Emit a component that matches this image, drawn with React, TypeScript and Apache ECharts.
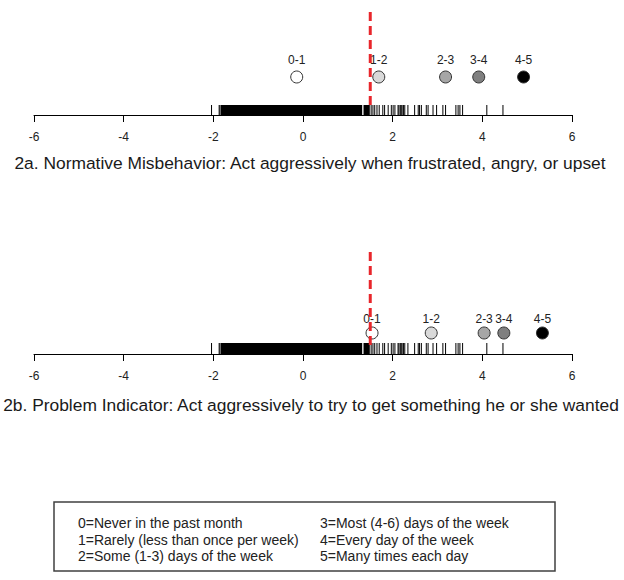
import React, { useEffect, useRef } from 'react';
import * as echarts from 'echarts';

// ---------- data ----------
const dotLabels = ['0-1', '1-2', '2-3', '3-4', '4-5'];
const thresholdsA = [-0.14, 1.69, 3.18, 3.92, 4.92];
const thresholdsB = [1.54, 2.86, 4.04, 4.48, 5.34];
const meanLine = 1.5;
const rugDense = [
  [-1.83, 1.32],
  [1.35, 1.49],
];
const rugTicks = [
  -2.04, -1.87, -1.85, 1.52, 1.56, 1.6, 1.65, 1.7, 1.78, 1.82, 1.9, 1.97, 2.01, 2.05, 2.12, 2.14,
  2.17, 2.19, 2.21, 2.24, 2.27, 2.34, 2.49, 2.57, 2.6, 2.64, 2.75, 2.79, 2.9, 2.98, 3.12, 3.18,
  3.41, 3.46, 3.5, 3.56, 4.1, 4.46,
];
const titleA = '2a. Normative Misbehavior: Act aggressively when frustrated, angry, or upset';
const titleB = '2b. Problem Indicator: Act aggressively to try to get something he or she wanted';
const legendLeft = [
  '0=Never in the past month',
  '1=Rarely (less than once per week)',
  '2=Some (1-3) days of the week',
];
const legendRight = [
  '3=Most (4-6) days of the week',
  '4=Every day of the week',
  '5=Many times each day',
];

// ---------- styles ----------
const FONT = '"Liberation Sans", Arial, sans-serif';
const dotColors = ['#ffffff', '#d9d9d9', '#a6a6a6', '#7f7f7f', '#000000'];
const RED = '#e8262b';

export default function App() {
  const ref = useRef<HTMLDivElement>(null);

  useEffect(() => {
    document.body.style.margin = '0';
    if (!ref.current) return;
    const chart = echarts.init(ref.current, null, { renderer: 'svg' });

    const panels = [
      { top: 8, height: 107, rugH: 10, dotY: 38, red: [10, 107], labelDist: 5, values: thresholdsA },
      { top: 248, height: 106, rugH: 11, dotY: 21, red: [9, 106], labelDist: 2, values: thresholdsB },
    ];

    const grids = panels.map((p) => ({ left: 34, width: 538, top: p.top, height: p.height }));
    const xAxes = panels.map((_, i) => ({
      type: 'value',
      gridIndex: i,
      min: -6,
      max: 6,
      interval: 2,
      axisLine: { show: true, onZero: false, lineStyle: { color: '#000', width: 1 } },
      axisTick: { show: true, length: 7, lineStyle: { color: '#000', width: 1 } },
      axisLabel: { fontSize: 12, color: '#222', margin: 16, fontFamily: FONT },
      splitLine: { show: false },
    }));
    const yAxes = panels.map((p, i) => ({
      type: 'value',
      gridIndex: i,
      min: 0,
      max: p.height,
      show: false,
    }));

    const series: any[] = [];
    panels.forEach((p, i) => {
      series.push({
        type: 'custom',
        xAxisIndex: i,
        yAxisIndex: i,
        z: 2,
        silent: true,
        data: rugDense,
        renderItem: (_params: any, api: any) => {
          const a = api.coord([api.value(0), 0]);
          const b = api.coord([api.value(1), p.rugH]);
          return {
            type: 'rect',
            shape: { x: a[0], y: b[1], width: b[0] - a[0], height: a[1] - b[1] },
            style: { fill: '#000' },
          };
        },
      });
      series.push({
        type: 'custom',
        xAxisIndex: i,
        yAxisIndex: i,
        z: 2,
        silent: true,
        data: rugTicks.map((v) => [v]),
        renderItem: (_params: any, api: any) => {
          const a = api.coord([api.value(0), 0]);
          const b = api.coord([api.value(0), p.rugH]);
          return {
            type: 'line',
            shape: { x1: a[0], y1: a[1], x2: b[0], y2: b[1] },
            style: { stroke: '#000', lineWidth: 1 },
          };
        },
      });
      series.push({
        type: 'scatter',
        xAxisIndex: i,
        yAxisIndex: i,
        z: 3,
        symbol: 'circle',
        symbolSize: 12,
        data: p.values.map((v, k) => ({
          value: [v, p.dotY],
          name: dotLabels[k],
          itemStyle: { color: dotColors[k], borderColor: '#333', borderWidth: 1, opacity: 1 },
        })),
        label: {
          show: true,
          position: 'top',
          distance: p.labelDist,
          formatter: (d: any) => d.name,
          fontSize: 12,
          color: '#222',
          fontFamily: FONT,
        },
      });
      series.push({
        type: 'line',
        xAxisIndex: i,
        yAxisIndex: i,
        z: 5,
        symbol: 'none',
        data: [
          [meanLine, p.red[0]],
          [meanLine, p.red[1]],
        ],
        lineStyle: { color: RED, width: 3, type: [9, 5] },
      });
    });

    const graphic: any[] = [
      {
        type: 'text',
        x: 310,
        y: 163,
        style: { text: titleA, fontSize: 17.4, fontFamily: FONT, fill: '#1a1a1a', textAlign: 'center', textVerticalAlign: 'middle' },
      },
      {
        type: 'text',
        x: 311,
        y: 405,
        style: { text: titleB, fontSize: 17.4, fontFamily: FONT, fill: '#1a1a1a', textAlign: 'center', textVerticalAlign: 'middle' },
      },
      {
        type: 'rect',
        shape: { x: 54, y: 502, width: 501, height: 69 },
        style: { fill: 'none', stroke: '#404040', lineWidth: 1.5 },
      },
    ];
    const lineYs = [523, 540, 556];
    legendLeft.forEach((t, k) =>
      graphic.push({
        type: 'text',
        x: 78,
        y: lineYs[k],
        style: { text: t, fontSize: 14, fontFamily: FONT, fill: '#222', textVerticalAlign: 'middle' },
      })
    );
    legendRight.forEach((t, k) =>
      graphic.push({
        type: 'text',
        x: 320,
        y: lineYs[k],
        style: { text: t, fontSize: 14, fontFamily: FONT, fill: '#222', textVerticalAlign: 'middle' },
      })
    );

    chart.setOption({
      animation: false,
      backgroundColor: '#fff',
      grid: grids,
      xAxis: xAxes,
      yAxis: yAxes,
      series,
      graphic,
    });

    return () => chart.dispose();
  }, []);

  return <div ref={ref} style={{ width: 624, height: 580 }} />;
}
